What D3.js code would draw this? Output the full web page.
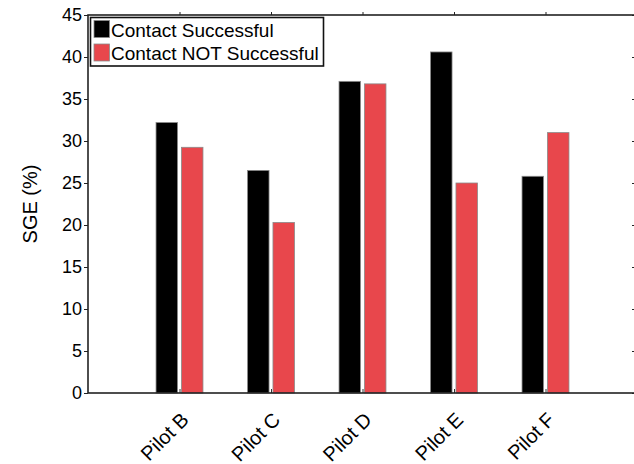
<!DOCTYPE html>
<html>
<head>
<meta charset="utf-8">
<script src="https://cdn.jsdelivr.net/npm/d3@7"></script>
<style>
  body { margin: 0; background: #fff; }
  text { font-family: "Liberation Sans", Arial, sans-serif; fill: #000; }
</style>
</head>
<body>
<div id="chart"></div>
<script>
// data
const pilots = ["Pilot B", "Pilot C", "Pilot D", "Pilot E", "Pilot F"];
const successful = [32.2, 26.5, 37.1, 40.6, 25.8];
const notSuccessful = [29.25, 20.3, 36.8, 25.0, 31.0];
const seriesNames = ["Contact Successful", "Contact NOT Successful"];
const seriesColors = ["#000000", "#e8474c"];
const yTicks = [0, 5, 10, 15, 20, 25, 30, 35, 40, 45];

const width = 634, height = 464;
const plot = { left: 88, right: 637, top: 15, bottom: 393 };

const svg = d3.select("#chart").append("svg")
    .attr("width", width)
    .attr("height", height);

// x positions 1..5 on a 0..6 axis, like a matlab grouped bar
const x = d3.scaleLinear().domain([0, 6]).range([plot.left, plot.right]);
const y = d3.scaleLinear().domain([0, 45]).range([plot.bottom, plot.top]);

const unit = x(1) - x(0);
const barW = unit * 0.235;
const offset = unit * 0.139;

const series = [successful, notSuccessful];

// bars
series.forEach((vals, s) => {
    svg.append("g")
        .selectAll("rect")
        .data(vals)
        .enter().append("rect")
        .attr("x", (d, i) => x(i + 1) + (s === 0 ? -offset : offset) - barW / 2)
        .attr("y", d => y(d))
        .attr("width", barW)
        .attr("height", d => y(0) - y(d))
        .attr("fill", seriesColors[s])
        .attr("stroke", "#8a8a8a")
        .attr("stroke-width", 0.8);
});

// y axis (left), ticks out
const yAxis = d3.axisLeft(y).tickValues(yTicks).tickSize(4).tickSizeOuter(0).tickPadding(2);
const yg = svg.append("g")
    .attr("transform", `translate(${plot.left},0)`)
    .call(yAxis);
yg.select(".domain").remove();
yg.selectAll("line").attr("stroke", "#222").attr("stroke-width", 1);
yg.selectAll("text").style("font-size", "18px").attr("fill", "#000");

// right axis ticks, inward
svg.append("g")
    .attr("transform", `translate(${plot.right},0)`)
    .call(d3.axisRight(y).tickValues(yTicks).tickSize(-5).tickSizeOuter(0).tickFormat(""))
    .call(g => g.select(".domain").remove())
    .selectAll("line").attr("stroke", "#222");

// bottom axis, labels rotated
const xAxis = d3.axisBottom(x).tickValues([1, 2, 3, 4, 5]).tickSize(-4).tickSizeOuter(0)
    .tickFormat((d, i) => pilots[i]);
const xg = svg.append("g")
    .attr("transform", `translate(0,${plot.bottom})`)
    .call(xAxis);
xg.select(".domain").remove();
xg.selectAll("line").attr("stroke", "#333").attr("stroke-width", 1);
xg.selectAll("text")
    .attr("y", 0)
    .attr("dy", 0)
    .attr("transform", "translate(10,28) rotate(-45)")
    .style("text-anchor", "end")
    .style("font-size", "20px")
    .attr("fill", "#000");

// top ticks, outward
svg.append("g")
    .attr("transform", `translate(0,${plot.top})`)
    .call(d3.axisTop(x).tickValues([1, 2, 3, 4, 5]).tickSize(3).tickSizeOuter(0).tickFormat(""))
    .call(g => g.select(".domain").remove())
    .selectAll("line").attr("stroke", "#222");

// frame
svg.append("rect")
    .attr("x", plot.left)
    .attr("y", plot.top)
    .attr("width", plot.right - plot.left)
    .attr("height", plot.bottom - plot.top)
    .attr("fill", "none")
    .attr("stroke", "#222")
    .attr("stroke-width", 1.6);

// y label
svg.append("text")
    .attr("transform", `translate(37,${(plot.top + plot.bottom) / 2}) rotate(-90)`)
    .style("text-anchor", "middle")
    .style("font-size", "20px")
    .text("SGE (%)");

// legend
const legend = svg.append("g");
legend.append("rect")
    .attr("x", 90.5).attr("y", 17.5)
    .attr("width", 233).attr("height", 48.5)
    .attr("fill", "#fff")
    .attr("stroke", "#111")
    .attr("stroke-width", 1.6);

const items = legend.selectAll("g.item")
    .data(seriesNames)
    .enter().append("g")
    .attr("class", "item")
    .attr("transform", (d, i) => `translate(0,${i * 23.5})`);

items.append("rect")
    .attr("x", 94).attr("y", 20.5)
    .attr("width", 15.5).attr("height", 17)
    .attr("fill", (d, i) => seriesColors[i])
    .attr("stroke", "#8a8a8a")
    .attr("stroke-width", 0.8);

items.append("text")
    .attr("x", 111)
    .attr("y", 36.5)
    .style("font-size", "19px")
    .text(d => d);
</script>
</body>
</html>
